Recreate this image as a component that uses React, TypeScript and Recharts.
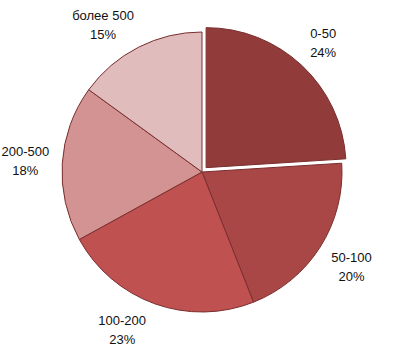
import { PieChart, Pie, Cell, Sector } from 'recharts';

const categories = ['0-50', '50-100', '100-200', '200-500', 'более 500'];
const shares = [24, 20, 23, 18, 15];
const colors = ['#913b3b', '#a94646', '#c05151', '#d39393', '#e0bcbc'];

const data = categories.map((name, i) => ({ name, value: shares[i] }));

const RADIAN = Math.PI / 180;
const FONT = "'Liberation Sans', Arial, sans-serif";

// first slice is pulled out of the pie a little
function renderShape(props: any) {
  const name = props.payload?.name ?? props.name;
  if (name === categories[0]) {
    const off = 6;
    const dx = off * Math.cos(-props.midAngle * RADIAN);
    const dy = off * Math.sin(-props.midAngle * RADIAN);
    return <Sector {...props} cx={props.cx + dx} cy={props.cy + dy} />;
  }
  return <Sector {...props} />;
}

function renderLabel(props: any) {
  const { cx, cy, midAngle, outerRadius, name, value } = props;
  // clockwise angle from 12 o'clock
  let a = (((90 - midAngle) % 360) + 360) % 360;
  // labels close to the vertical get pushed sideways a bit (like excel does)
  if (Math.abs(Math.sin(a * RADIAN)) < 0.5) {
    if (a > 90 && a < 270) a += a > 180 ? 7 : -7;
    else a += a > 180 ? -7 : 7;
  }
  const r = outerRadius + 37;
  const x = cx + r * Math.sin(a * RADIAN);
  const y = cy - r * Math.cos(a * RADIAN);
  return (
    <text x={x} y={y} textAnchor="middle" fill="#111" fontSize={13} fontFamily={FONT}>
      <tspan x={x} dy={-5}>{name}</tspan>
      <tspan x={x} dy={19}>{value}%</tspan>
    </text>
  );
}

export default function App() {
  return (
    <div style={{ position: 'fixed', left: 0, top: 0, background: '#fff' }}>
      <PieChart width={397} height={354} margin={{ top: 0, right: 0, bottom: 0, left: 0 }}>
        <Pie
          data={data}
          dataKey="value"
          nameKey="name"
          cx={202}
          cy={172}
          outerRadius={140}
          startAngle={90}
          endAngle={-270}
          stroke="#7a2e2e"
          strokeWidth={1}
          label={renderLabel}
          labelLine={false}
          shape={renderShape}
          isAnimationActive={false}
        >
          {data.map((entry, i) => (
            <Cell key={entry.name} fill={colors[i]} />
          ))}
        </Pie>
      </PieChart>
    </div>
  );
}
